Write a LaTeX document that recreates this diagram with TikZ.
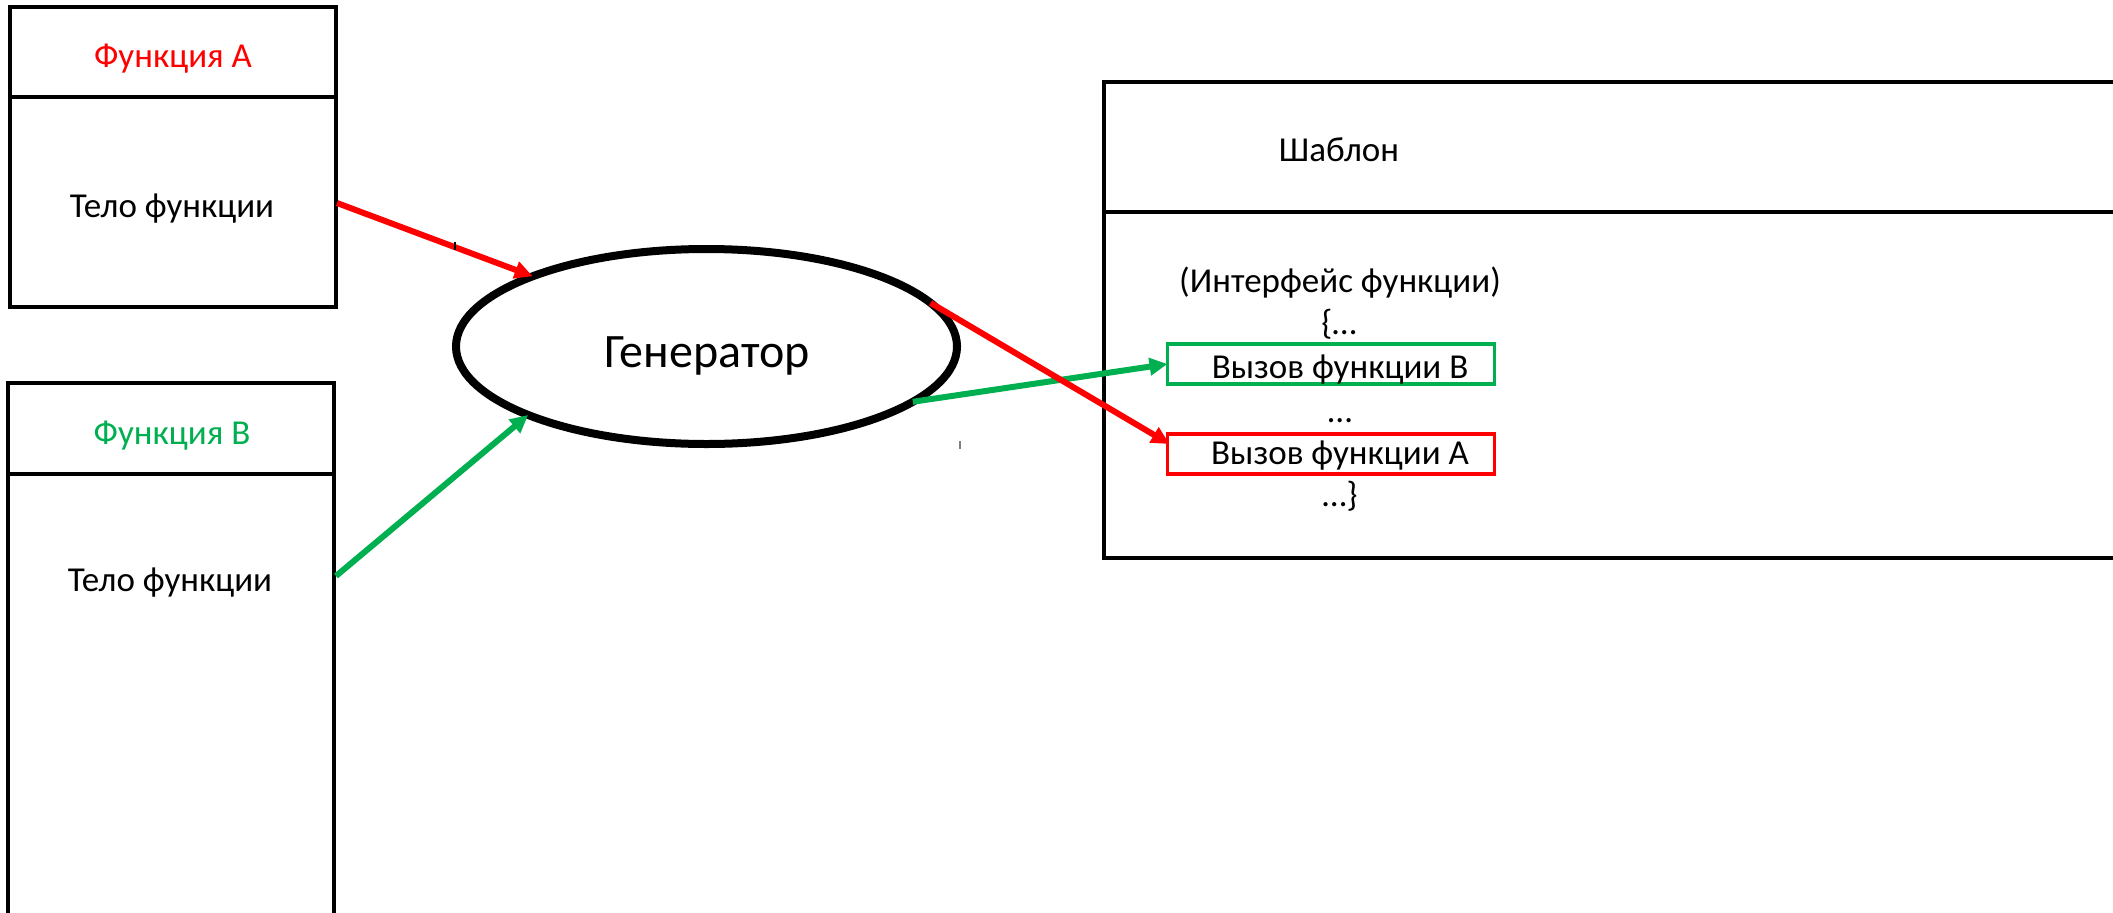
\documentclass[tikz,border=0pt]{standalone}
\usepackage{fontspec}
\setmainfont{Carlito}
\usetikzlibrary{shapes.geometric,arrows.meta,calc}
\definecolor{fred}{RGB}{255,0,0}
\definecolor{fgreen}{RGB}{0,176,80}
\tikzset{
  box/.style={draw=black, line width=4pt, inner sep=0pt, outer sep=0pt},
  divline/.style={draw=black, line width=4.5pt},
  txt/.style={font=\fontsize{35}{42}\selectfont, inner sep=0pt, anchor=base},
  callbox/.style={line width=3.5pt, inner sep=0pt, outer sep=0pt, minimum width=327pt, minimum height=40pt},
  redarrow/.style={draw=fred, line width=6pt, -{Triangle[length=18pt,width=17pt]}},
  greenarrow/.style={draw=fgreen, line width=6pt, -{Triangle[length=18pt,width=17pt]}},
}
\begin{document}
\begin{tikzpicture}[x=1pt,y=-1pt]
\clip (0,0) rectangle (2113,913);
\fill[white] (0,0) rectangle (2113,913);

% Function A box
\node[box, minimum width=326pt, minimum height=300pt] (boxA) at (173,157) {};
\draw[divline] (10,97) coordinate (dA1) -- (336,97) coordinate (dA2);
\node[txt, text=fred] (titleA) at (173,67) {Функция A};
\node[txt] (bodyA) at (172,217) {Тело функции};

% Function B box (runs off the bottom)
\node[box, minimum width=326pt, minimum height=640pt] (boxB) at (171,703) {};
\draw[divline] (8,474) coordinate (dB1) -- (334,474) coordinate (dB2);
\node[txt, text=fgreen] (titleB) at (172,444) {Функция B};
\node[txt] (bodyB) at (170,591) {Тело функции};

% Generator
\node[ellipse, draw=black, line width=8pt, inner sep=0pt, outer sep=0pt,
      minimum width=501pt, minimum height=195pt] (gen) at (706.5,346.5) {};
\node[font=\fontsize{48}{58}\selectfont, inner sep=0pt, anchor=base] (genT) at (707,367) {Генератор};

% Template box (runs off the right)
\node[box, minimum width=1200pt, minimum height=476pt] (tpl) at (1704,320) {};
\draw[divline] (1104,212) coordinate (dT1) -- (2200,212) coordinate (dT2);
\node[txt] (tplT) at (1339,161) {Шаблон};
\node[txt] (iface) at (1340,292) {(Интерфейс функции)};
\node[txt] (open) at (1339,334) {\{…};
\node[callbox, draw=fgreen] (callB) at (1331,364) {};
\node[txt] (callBT) at (1340,378) {Вызов функции B};
\node[txt] (mid) at (1340,422) {…};
\node[callbox, draw=fred] (callA) at (1331,454) {};
\node[txt] (callAT) at (1340,464) {Вызов функции А};
\node[txt] (close) at (1340,506) {…\}};

% connectors
\coordinate (sA) at (337,203);
\coordinate (sB) at (336,576);
\draw[redarrow] (sA) -- (gen.158.7);
\draw[greenarrow] (sB) -- (gen.201.2);
\draw[greenarrow] (gen.-15.4) -- (callB.west);
\draw[redarrow] (gen.11.6) -- ($(callA.west)+(2,-10)$);

% small stray ticks
\draw[black, line width=1.5pt] (455,242) coordinate (t1a) -- (455,250) coordinate (t1b);
\draw[gray, line width=1.5pt] (960,441) coordinate (t2a) -- (960,449) coordinate (t2b);
\end{tikzpicture}
\end{document}
